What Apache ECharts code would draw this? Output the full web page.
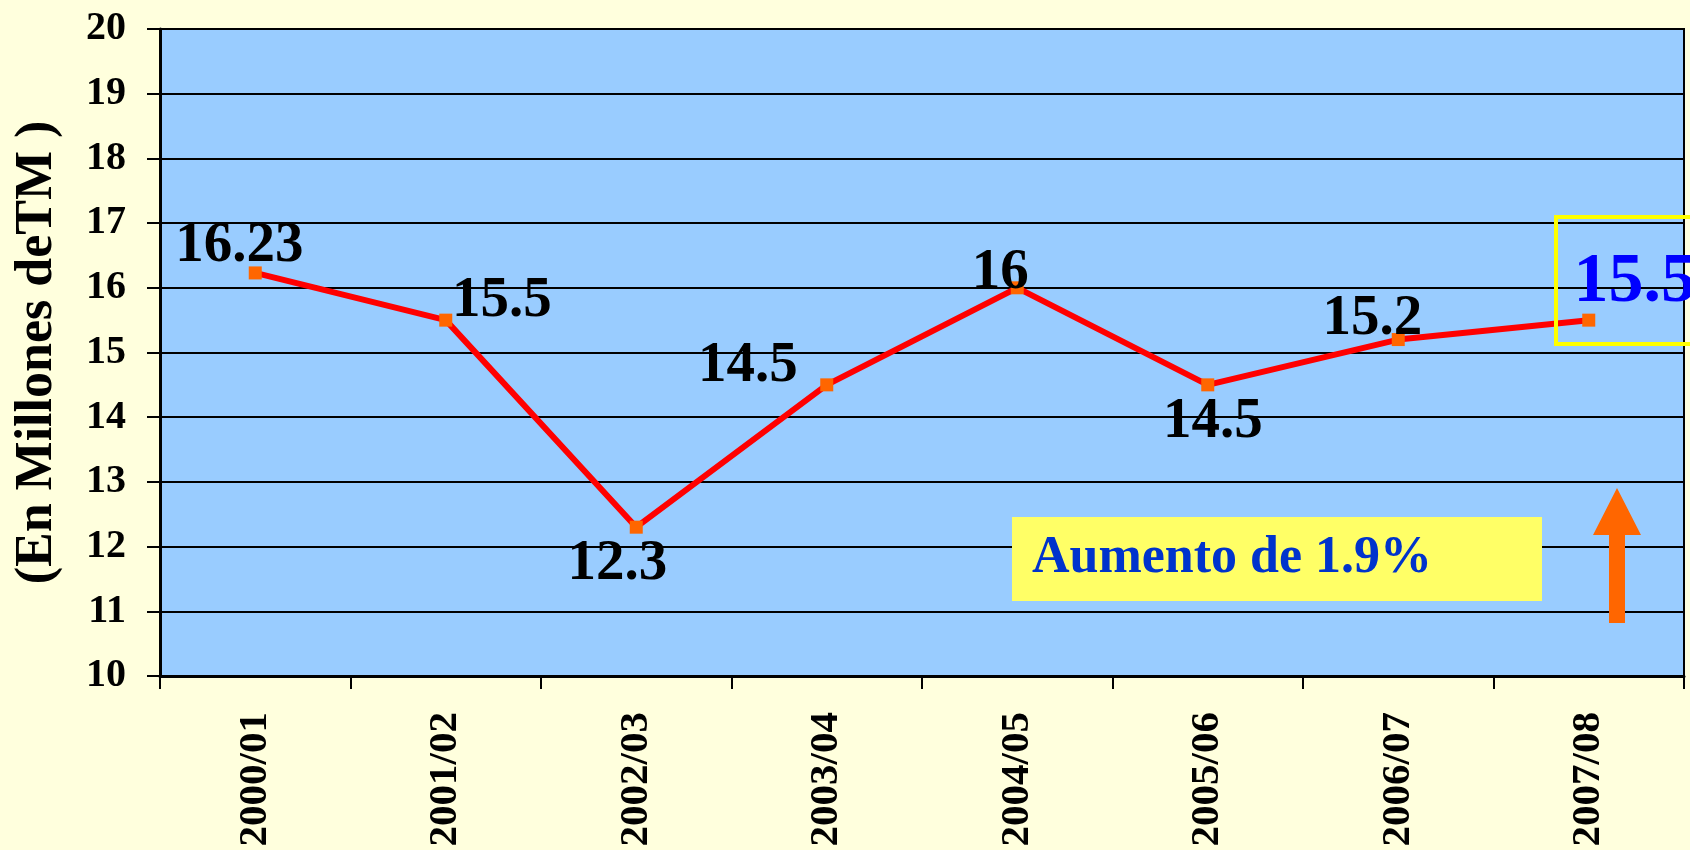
<!DOCTYPE html>
<html>
<head>
<meta charset="utf-8">
<script src="https://cdn.jsdelivr.net/npm/echarts@6/dist/echarts.min.js"></script>
<style>
html,body{margin:0;padding:0;background:#FFFFDD;}
#chart{width:1690px;height:850px;}
</style>
</head>
<body>
<div id="chart"></div>
<script>
// ---- data ----
const categories = ['2000/01','2001/02','2002/03','2003/04','2004/05','2005/06','2006/07','2007/08'];
const production = [16.23, 15.5, 12.3, 14.5, 16, 14.5, 15.2, 15.5];
const yTicks = [10, 20, 1]; // min, max, interval
const yAxisTitle = '(En Millones deTM )';
const noteText = 'Aumento de 1.9%';

// ---- styling ----
const FONT = "'Liberation Serif','Times New Roman',serif";
const labelPlacement = [
  [-16, -27], [56, -19], [-19, 37], [-79, -19],
  [-17, -15], [5, 37], [-26, -20], [46, -37]
];

const seriesData = production.map((v, i) => {
  const last = i === production.length - 1;
  return {
    value: v,
    label: {
      show: true,
      position: 'inside',
      offset: labelPlacement[i],
      align: 'center',
      verticalAlign: 'middle',
      fontFamily: FONT,
      fontWeight: 'bold',
      fontSize: last ? 70 : 57,
      color: last ? '#0000FF' : '#000000'
    }
  };
});

const chart = echarts.init(document.getElementById('chart'));
chart.setOption({
  backgroundColor: '#FFFFDD',
  animation: false,
  grid: {
    left: 160, top: 29, right: 6, bottom: 174,
    show: true, backgroundColor: '#99CCFF', borderColor: '#000', borderWidth: 2
  },
  xAxis: {
    type: 'category',
    data: categories,
    boundaryGap: true,
    axisLine: { lineStyle: { color: '#000', width: 3 } },
    axisTick: { show: true, length: 13, lineStyle: { color: '#000', width: 2 } },
    axisLabel: {
      rotate: 90, margin: 36, interval: 0,
      fontFamily: FONT, fontWeight: 'bold', fontSize: 41, color: '#000'
    },
    splitLine: { show: false }
  },
  yAxis: {
    type: 'value',
    min: yTicks[0], max: yTicks[1], interval: yTicks[2],
    name: yAxisTitle,
    nameLocation: 'middle',
    nameGap: 96,
    nameTextStyle: { fontFamily: FONT, fontWeight: 'bold', fontSize: 52, color: '#000' },
    axisLine: { show: true, lineStyle: { color: '#000', width: 3 } },
    axisTick: { show: true, length: 13, lineStyle: { color: '#000', width: 2 } },
    axisLabel: { margin: 34, fontFamily: FONT, fontWeight: 'bold', fontSize: 40, color: '#000' },
    splitLine: { show: true, lineStyle: { color: '#000', width: 2 } }
  },
  series: [{
    type: 'line',
    data: seriesData,
    symbol: 'rect',
    symbolSize: 13,
    itemStyle: { color: '#FF6600' },
    lineStyle: { color: '#FF0000', width: 6 },
    z: 3
  }],
  graphic: [
    {
      type: 'rect',
      shape: { x: 1012, y: 517, width: 530, height: 84 },
      style: { fill: '#FFFF66' },
      z: 10
    },
    {
      type: 'text',
      style: {
        text: noteText, x: 1032, y: 559,
        font: 'bold 52px ' + FONT,
        fill: '#0033CC', textVerticalAlign: 'middle'
      },
      z: 11
    },
    {
      type: 'rect',
      shape: { x: 1556, y: 217, width: 160, height: 127 },
      style: { fill: 'none', stroke: '#FFFF00', lineWidth: 4 },
      z: 10
    },
    {
      type: 'polygon',
      shape: { points: [[1617,488],[1641,535],[1625,535],[1625,623],[1609,623],[1609,535],[1593,535]] },
      style: { fill: '#FF6600' },
      z: 10
    }
  ]
});
</script>
</body>
</html>
